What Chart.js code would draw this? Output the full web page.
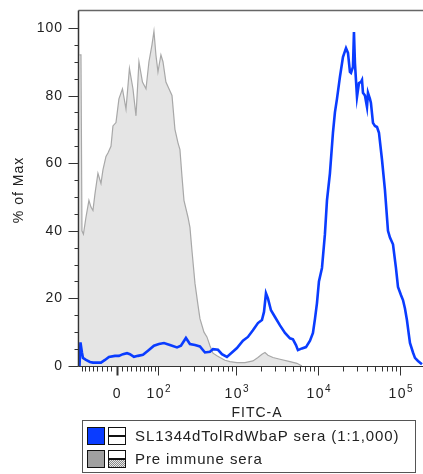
<!DOCTYPE html>
<html>
<head>
<meta charset="utf-8">
<script src="https://cdn.jsdelivr.net/npm/chart.js@4.4.0/dist/chart.umd.min.js"></script>
<style>
  html, body { margin: 0; padding: 0; background: #fff; overflow: hidden; }
  #wrap { position: relative; width: 423px; height: 474px; }
  #chart { position: absolute; left: 0; top: 0; }
  #legend { position: absolute; left: 82px; top: 420px; width: 334px; height: 53px;
            border: 1px solid #555; box-sizing: border-box; }
  .sw { position: absolute; width: 18px; height: 18px; border: 1.5px solid #111; box-sizing: border-box; }
  .txt { position: absolute; left: 135px; font: 15px "Liberation Sans", Arial, sans-serif;
         letter-spacing: 0.9px; color: #222; line-height: 18px; white-space: nowrap; }
</style>
</head>
<body>
<div id="wrap">
  <canvas id="chart" width="423" height="474"></canvas>
  <div id="legend"></div>
  <div class="sw" style="left:87px; top:427px; background:#0a3cff;"></div>
  <div class="sw" style="left:108px; top:427px; background:linear-gradient(#fff 0 44%, #111 44% 58%, #fff 58% 100%);"></div>
  <div class="txt" style="top:427px;">SL1344dTolRdWbaP sera (1:1,000)</div>
  <div class="sw" style="left:87px; top:450px; background:#a0a0a0;"></div>
  <div class="sw" style="left:108px; top:450px; background:linear-gradient(#fff 0 44%, #111 44% 56%, transparent 56%), repeating-conic-gradient(#8a8a8a 0 25%, #e8e8e8 0 50%) 0 0 / 2px 2px;"></div>
  <div class="txt" style="top:450px;">Pre immune sera</div>
</div>
<script>
// FITC-A values are stored in display units (decades on the biexponential axis)
const xMin = -0.458
const xMax = 3.737
const yMax = 105

const yTickValues = [0, 20, 40, 60, 80, 100]
const xTickValues = [0, 100, 1000, 10000, 100000]
const xTickBase = ["0", "10", "10", "10", "10"]
const xTickPower = ["", "2", "3", "4", "5"]
const xMinorValues = [
  -80, -70, -60, -50, -40, -30, -20, -10,
  10, 20, 30, 40, 50, 60, 70, 80, 90,
  200, 300, 400, 500, 600, 700, 800, 900,
  2000, 3000, 4000, 5000, 6000, 7000, 8000, 9000,
  20000, 30000, 40000, 50000, 60000, 70000, 80000, 90000,
]

// SL1344dTolRdWbaP sera (1:1,000)
const immuneX = [
  -0.452, -0.440, -0.422, -0.410, -0.373, -0.324, -0.288, -0.190, -0.141, -0.093,
  -0.020, 0.029, 0.078, 0.127, 0.163, 0.212, 0.261, 0.322, 0.383, 0.456,
  0.517, 0.578, 0.651, 0.737, 0.785, 0.846, 0.895, 0.956, 1.017, 1.078,
  1.139, 1.176, 1.237, 1.285, 1.346, 1.407, 1.468, 1.541, 1.602, 1.663,
  1.724, 1.773, 1.798, 1.822, 1.846, 1.883, 1.932, 1.993, 2.054, 2.115,
  2.151, 2.188, 2.212, 2.261, 2.310, 2.359, 2.395, 2.420, 2.444, 2.468,
  2.505, 2.541, 2.566, 2.602, 2.639, 2.663, 2.688, 2.724, 2.761, 2.798,
  2.822, 2.846, 2.859, 2.883, 2.895, 2.907, 2.932, 2.956, 2.980, 2.993,
  3.005, 3.029, 3.054, 3.066, 3.090, 3.102, 3.127, 3.151, 3.176, 3.200,
  3.237, 3.273, 3.310, 3.334, 3.371, 3.407, 3.432, 3.468, 3.493, 3.517,
  3.541, 3.566, 3.578, 3.615, 3.639, 3.676, 3.724,
]
const immuneY = [
  0, 7, 4, 2.4, 1.8, 1.2, 1, 1, 1.8, 2.7,
  3, 3, 3.5, 3.8, 3.5, 2.7, 3, 3.3, 4.5, 6,
  6.5, 6.8, 6.2, 5.5, 6, 8.3, 6.5, 6.2, 5.8, 4,
  4.2, 5, 4.8, 3.5, 2.7, 4, 5.3, 7.5, 8.6, 10.6,
  12.7, 13.6, 16, 21.5, 20, 16.5, 14.5, 12, 9.8, 8.2,
  7.9, 6.2, 4.7, 5.2, 5.6, 7.5, 9.8, 14, 18.6, 25,
  29, 39, 49, 57, 69, 75, 79, 85.5, 91.4, 94,
  92.6, 87, 86.7, 88.5, 98.8, 89.6, 79.6, 83.7, 84, 84.6,
  80.8, 80, 76.6, 80.8, 79, 77.8, 71.9, 71, 70.7, 69,
  61, 52, 40, 38, 36, 29, 23.4, 21, 19.5, 17,
  13.6, 9, 6.8, 4, 2.4, 1.5, 0.5,
]

// Pre immune sera
const preImmuneX = [
  -0.452, -0.434, -0.422, -0.404, -0.373, -0.337, -0.312, -0.288, -0.263, -0.227,
  -0.190, -0.166, -0.129, -0.105, -0.068, -0.044, -0.007, 0.029, 0.072, 0.115,
  0.157, 0.200, 0.237, 0.273, 0.316, 0.359, 0.395, 0.432, 0.456, 0.480,
  0.505, 0.541, 0.566, 0.602, 0.639, 0.676, 0.712, 0.749, 0.773, 0.798,
  0.822, 0.871, 0.895, 0.920, 0.956, 0.993, 1.017, 1.066, 1.102, 1.139,
  1.176, 1.224, 1.261, 1.322, 1.383, 1.468, 1.566, 1.663, 1.724, 1.773,
  1.810, 1.846, 1.907, 1.993, 2.115, 2.200, 2.261,
]
const preImmuneY = [
  92, 92, 40, 39, 44, 49, 47, 46, 51, 57,
  54, 58, 62, 63, 65, 71, 72, 79, 82, 76,
  88, 82, 74, 90, 84, 82, 90, 95, 99, 92,
  87, 92, 90, 84, 82, 80, 70, 66, 64, 56,
  49, 44, 41, 34, 24.5, 18, 14, 10, 8.6, 6,
  3.8, 3, 2.5, 1.7, 1.3, 1, 1, 1.5, 2.5, 3.5,
  4, 3.2, 2.5, 2, 1.3, 0.8, 0,
]

// biexponential display transform, FITC value -> decades
const biex = (v) => Math.asinh(v / 70) / Math.LN10
const fontFamily = '"Liberation Sans", Arial, sans-serif'

const toPoints = (xs, ys) => xs.map((x, i) => ({ x: x, y: ys[i] }))

// Axes, ticks and labels drawn in FlowJo style
const flowAxes = {
  id: "flowAxes",
  afterDraw(chart) {
    const { ctx, chartArea: area, scales: { x, y } } = chart
    const seg = (x1, y1, x2, y2) => {
      ctx.beginPath()
      ctx.moveTo(x1, y1)
      ctx.lineTo(x2, y2)
      ctx.stroke()
    }
    const left = Math.round(area.left) - 0.5
    const bottom = Math.round(area.bottom) + 0.5
    const top = Math.round(area.top) - 0.5

    ctx.save()
    ctx.strokeStyle = "#666"
    ctx.lineWidth = 1.5
    seg(left, top, area.right, top)
    ctx.strokeStyle = "#333"
    ctx.lineWidth = 1.5
    seg(left, top, left, bottom)
    ctx.lineWidth = 1
    seg(left, bottom, area.right, bottom)

    // y ticks
    for (let v = 5; v <= 100; v += 5) {
      if (v % 20 === 0) continue
      const py = Math.round(y.getPixelForValue(v)) + 0.5
      seg(left - 4, py, left, py)
    }
    ctx.fillStyle = "#222"
    ctx.font = "14px " + fontFamily
    ctx.letterSpacing = "1px"
    ctx.textAlign = "right"
    ctx.textBaseline = "middle"
    yTickValues.forEach((v) => {
      const py = Math.round(y.getPixelForValue(v)) + 0.5
      seg(left - 10, py, left, py)
      ctx.fillText(String(v), 63, py)
    })

    // x ticks
    xMinorValues.forEach((v) => {
      const px = Math.round(x.getPixelForValue(biex(v))) + 0.5
      if (px < area.left || px > area.right) return
      seg(px, bottom, px, bottom + 5)
    })
    xTickValues.forEach((v, i) => {
      const px = Math.round(x.getPixelForValue(biex(v))) + 0.5
      ctx.lineWidth = v === 0 ? 2 : 1
      seg(px, bottom, px, bottom + 9)
      ctx.textAlign = "left"
      ctx.textBaseline = "alphabetic"
      ctx.font = "14px " + fontFamily
      ctx.letterSpacing = "1.5px"
      const wb = ctx.measureText(xTickBase[i]).width
      ctx.font = "10px " + fontFamily
      ctx.letterSpacing = "0px"
      const wp = ctx.measureText(xTickPower[i]).width
      const start = px - (wb + wp) / 2
      ctx.font = "14px " + fontFamily
      ctx.letterSpacing = "1.5px"
      ctx.fillText(xTickBase[i], start, 398)
      ctx.font = "10px " + fontFamily
      ctx.letterSpacing = "0px"
      ctx.fillText(xTickPower[i], start + wb, 392)
    })

    // axis titles
    ctx.font = "14px " + fontFamily
    ctx.letterSpacing = "1px"
    ctx.textAlign = "center"
    ctx.textBaseline = "alphabetic"
    ctx.fillText("FITC-A", 257, 417)
    ctx.translate(19, 190)
    ctx.rotate(-Math.PI / 2)
    ctx.textBaseline = "middle"
    ctx.fillText("% of Max", 0, 0)
    ctx.restore()
  },
}

const chart = new Chart(document.getElementById("chart").getContext("2d"), {
  type: "line",
  data: {
    datasets: [
      {
        label: "SL1344dTolRdWbaP sera (1:1,000)",
        data: toPoints(immuneX, immuneY),
        borderColor: "#0a3cff",
        borderWidth: 2.6,
        fill: false,
        order: 0,
      },
      {
        label: "Pre immune sera",
        data: toPoints(preImmuneX, preImmuneY),
        borderColor: "#a8a8a8",
        borderWidth: 1.2,
        backgroundColor: "#e5e5e5",
        fill: "origin",
        order: 1,
      },
    ],
  },
  options: {
    responsive: false,
    animation: false,
    devicePixelRatio: 1,
    layout: { padding: { left: 79, top: 11, right: 0, bottom: 108 } },
    elements: {
      point: { radius: 0 },
      line: { tension: 0 },
    },
    scales: {
      x: { type: "linear", display: false, min: xMin, max: xMax },
      y: { type: "linear", display: false, min: 0, max: yMax },
    },
    plugins: {
      legend: { display: false },
      tooltip: { enabled: false },
    },
  },
  plugins: [flowAxes],
})
</script>
</body>
</html>
